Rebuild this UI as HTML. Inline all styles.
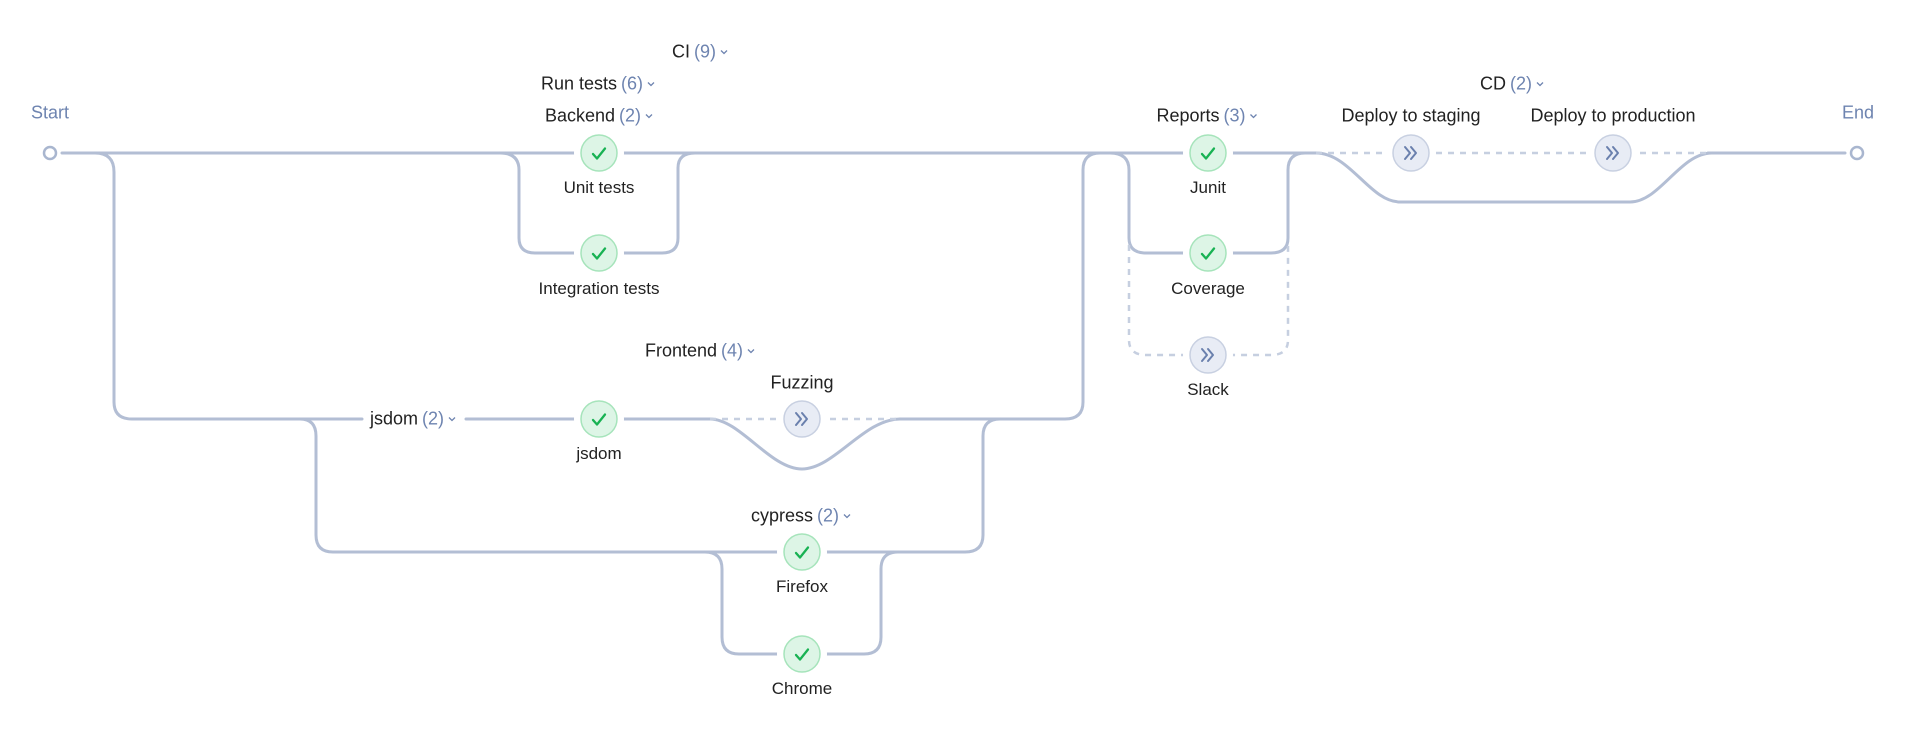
<!DOCTYPE html>
<html><head><meta charset="utf-8"><style>
body{margin:0;background:#fff;width:1919px;height:734px;overflow:hidden;position:relative;font-family:"Liberation Sans",sans-serif}
.l{position:absolute;transform:translate(-50%,-50%);white-space:nowrap;font-size:18px;color:#222;display:flex;align-items:center;gap:4px}
.n{font-size:17px}
.c{color:#6e84b0}
.v{width:8px;height:6px}
</style></head><body>
<svg width="1919" height="734" style="position:absolute;left:0;top:0">
<g fill="none" stroke="#b3bed4" stroke-width="3" stroke-linecap="round">
<path d="M62 153 H1316"/>
<path d="M1708 153 H1845"/>
<path d="M1316 153 C1350 153 1370 202 1400 202 H1630 C1660 202 1680 153 1712 153"/>
<path d="M500 153 Q519 153 519 170 V238 Q519 253 535 253 H662 Q678 253 678 238 V168 Q678 153 695 153"/>
<path d="M95 153 Q114 153 114 172 V402 Q114 419 132 419 H362"/>
<path d="M466 419 H710"/>
<path d="M900 419 H1065 Q1083 419 1083 402 V170 Q1083 153 1100 153"/>
<path d="M710 419 C740 419 770 469 802 469 C834 469 864 419 900 419"/>
<path d="M300 419 Q316 419 316 436 V535 Q316 552 333 552 H965 Q983 552 983 535 V436 Q983 419 1000 419"/>
<path d="M705 552 Q722 552 722 569 V637 Q722 654 739 654 H864 Q881 654 881 637 V569 Q881 552 898 552"/>
<path d="M1110 153 Q1129 153 1129 170 V238 Q1129 253 1146 253 H1271 Q1288 253 1288 238 V170 Q1288 153 1305 153"/>
</g>
<g fill="none" stroke="#c6cfe0" stroke-width="2.5" stroke-dasharray="6 6">
<path d="M1316 153 H1708"/>
<path d="M710 419 H900"/>
<path d="M1129 245 V340 Q1129 355 1146 355 H1271 Q1288 355 1288 340 V245"/>
</g>
<g fill="#fff" stroke="#a9b6cf" stroke-width="2.5">
<circle cx="50" cy="153" r="6"/><circle cx="1857" cy="153" r="6"/>
</g>
<g stroke="#fff" stroke-width="12">
<circle cx="599" cy="153" r="19" fill="#fff"/><circle cx="599" cy="253" r="19" fill="#fff"/>
<circle cx="599" cy="419" r="19" fill="#fff"/><circle cx="802" cy="419" r="19" fill="#fff"/>
<circle cx="802" cy="552" r="19" fill="#fff"/><circle cx="802" cy="654" r="19" fill="#fff"/>
<circle cx="1208" cy="153" r="19" fill="#fff"/><circle cx="1208" cy="253" r="19" fill="#fff"/>
<circle cx="1208" cy="355" r="19" fill="#fff"/><circle cx="1411" cy="153" r="19" fill="#fff"/>
<circle cx="1613" cy="153" r="19" fill="#fff"/>
</g>
<g fill="#ddf5e6" stroke="#a6e4bb" stroke-width="1.5">
<circle cx="599" cy="153" r="18"/><circle cx="599" cy="253" r="18"/><circle cx="599" cy="419" r="18"/>
<circle cx="802" cy="552" r="18"/><circle cx="802" cy="654" r="18"/>
<circle cx="1208" cy="153" r="18"/><circle cx="1208" cy="253" r="18"/>
</g>
<g fill="none" stroke="#18b253" stroke-width="2.3" stroke-linecap="round" stroke-linejoin="round">
<path d="M593 154 l4 4.5 l8 -10"/><path d="M593 254 l4 4.5 l8 -10"/><path d="M593 420 l4 4.5 l8 -10"/>
<path d="M796 553 l4 4.5 l8 -10"/><path d="M796 655 l4 4.5 l8 -10"/>
<path d="M1202 154 l4 4.5 l8 -10"/><path d="M1202 254 l4 4.5 l8 -10"/>
</g>
<g fill="#e8ecf5" stroke="#c8d0e1" stroke-width="1.5">
<circle cx="802" cy="419" r="18"/><circle cx="1208" cy="355" r="18"/><circle cx="1411" cy="153" r="18"/><circle cx="1613" cy="153" r="18"/>
</g>
<g fill="none" stroke="#6a80ad" stroke-width="2" stroke-linecap="round" stroke-linejoin="round">
<path d="M796 413 l5 6 l-5 6 M802 413 l5 6 l-5 6"/>
<path d="M1202 349 l5 6 l-5 6 M1208 349 l5 6 l-5 6"/>
<path d="M1405 147 l5 6 l-5 6 M1411 147 l5 6 l-5 6"/>
<path d="M1607 147 l5 6 l-5 6 M1613 147 l5 6 l-5 6"/>
</g>
</svg>
<div class="l c" style="left:50px;top:113px">Start</div>
<div class="l c" style="left:1858px;top:113px">End</div>
<div class="l" style="left:700px;top:52px">CI <span class="c">(9)</span><svg class="v"><path d="M1 1 l3 3 l3 -3" stroke="#6e84b0" fill="none" stroke-width="1.3"/></svg></div>
<div class="l" style="left:598px;top:84px">Run tests <span class="c">(6)</span><svg class="v"><path d="M1 1 l3 3 l3 -3" stroke="#6e84b0" fill="none" stroke-width="1.3"/></svg></div>
<div class="l" style="left:599px;top:116px">Backend <span class="c">(2)</span><svg class="v"><path d="M1 1 l3 3 l3 -3" stroke="#6e84b0" fill="none" stroke-width="1.3"/></svg></div>
<div class="l" style="left:700px;top:351px">Frontend <span class="c">(4)</span><svg class="v"><path d="M1 1 l3 3 l3 -3" stroke="#6e84b0" fill="none" stroke-width="1.3"/></svg></div>
<div class="l" style="left:413px;top:419px">jsdom <span class="c">(2)</span><svg class="v"><path d="M1 1 l3 3 l3 -3" stroke="#6e84b0" fill="none" stroke-width="1.3"/></svg></div>
<div class="l" style="left:801px;top:516px">cypress <span class="c">(2)</span><svg class="v"><path d="M1 1 l3 3 l3 -3" stroke="#6e84b0" fill="none" stroke-width="1.3"/></svg></div>
<div class="l" style="left:1207px;top:116px">Reports <span class="c">(3)</span><svg class="v"><path d="M1 1 l3 3 l3 -3" stroke="#6e84b0" fill="none" stroke-width="1.3"/></svg></div>
<div class="l" style="left:1512px;top:84px">CD <span class="c">(2)</span><svg class="v"><path d="M1 1 l3 3 l3 -3" stroke="#6e84b0" fill="none" stroke-width="1.3"/></svg></div>
<div class="l" style="left:1411px;top:116px">Deploy to staging</div>
<div class="l" style="left:1613px;top:116px">Deploy to production</div>
<div class="l" style="left:802px;top:383px">Fuzzing</div>
<div class="l n" style="left:599px;top:188px">Unit tests</div>
<div class="l n" style="left:599px;top:289px">Integration tests</div>
<div class="l n" style="left:599px;top:454px">jsdom</div>
<div class="l n" style="left:802px;top:587px">Firefox</div>
<div class="l n" style="left:802px;top:689px">Chrome</div>
<div class="l n" style="left:1208px;top:188px">Junit</div>
<div class="l n" style="left:1208px;top:289px">Coverage</div>
<div class="l n" style="left:1208px;top:390px">Slack</div>
</body></html>
